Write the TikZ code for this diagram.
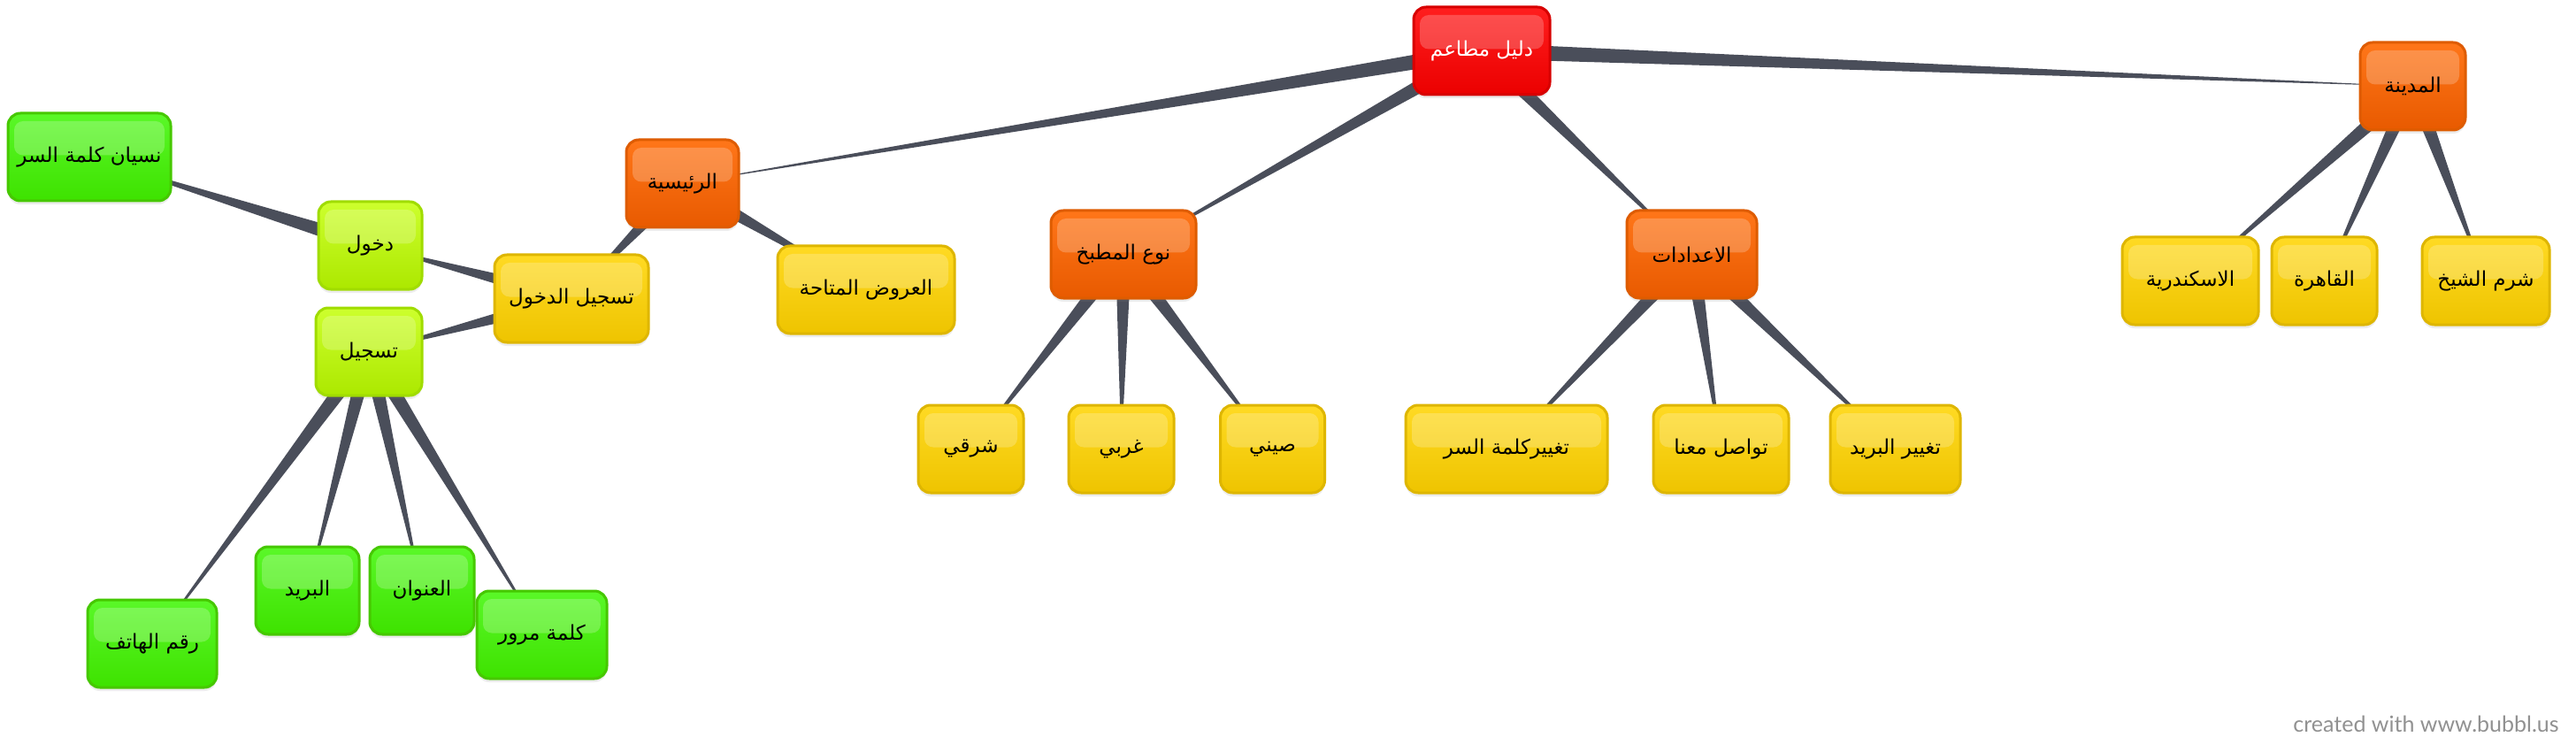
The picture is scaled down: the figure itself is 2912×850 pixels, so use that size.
\documentclass[tikz,border=0pt]{standalone}
\usepackage{fontspec}
\usetikzlibrary{calc,shadows}
\TeXXeTstate=1
\newfontfamily\arabicfont[Script=Arabic]{DejaVu Sans}
\newfontfamily\credfont{Lato}
\definecolor{conncol}{RGB}{74,78,90}
\definecolor{redB}{RGB}{215,0,0}
\definecolor{redT}{RGB}{255,30,30}
\definecolor{redD}{RGB}{235,0,0}
\definecolor{orB}{RGB}{222,92,0}
\definecolor{orT}{RGB}{255,118,25}
\definecolor{orD}{RGB}{232,90,0}
\definecolor{yeB}{RGB}{222,182,0}
\definecolor{yeT}{RGB}{255,218,35}
\definecolor{yeD}{RGB}{238,196,0}
\definecolor{liB}{RGB}{160,220,0}
\definecolor{liT}{RGB}{205,255,45}
\definecolor{liD}{RGB}{172,232,0}
\definecolor{grB}{RGB}{70,200,0}
\definecolor{grT}{RGB}{90,248,40}
\definecolor{grD}{RGB}{62,226,0}
\definecolor{credcol}{RGB}{145,145,145}
\pgfdeclarelayer{bg}
\pgfsetlayers{bg,main}
\newcommand\linkpc[2]{\fill[conncol] ($(#1.center)!4.5pt!90:(#2.center)$) -- ($(#1.center)!4.5pt!-90:(#2.center)$) -- (#2.center) -- cycle;}
\tikzset{
  box/.style={rounded corners=7pt, line width=1.5pt, minimum height=49.5pt, inner sep=2pt,
    font=\arabicfont\fontsize{11.5}{13}\selectfont, text=black,
    drop shadow={opacity=0.15, shadow xshift=0pt, shadow yshift=-2pt},
    path picture={\fill[white,opacity=0.22,rounded corners=5pt]
      ($(path picture bounding box.north west)+(3.5pt,-4.5pt)$) rectangle
      ($(path picture bounding box.east)+(-3.5pt,1pt)$);}},
  redbox/.style={box, draw=redB, top color=redT, bottom color=redD, text=white},
  orbox/.style={box, draw=orB, top color=orT, bottom color=orD},
  yebox/.style={box, draw=yeB, top color=yeT, bottom color=yeD},
  libox/.style={box, draw=liB, top color=liT, bottom color=liD},
  grbox/.style={box, draw=grB, top color=grT, bottom color=grD},
}
\begin{document}
\begin{tikzpicture}[x=0.5pt,y=-0.5pt]
\useasboundingbox (0,0) rectangle (2912,850);
% root
\node[redbox, minimum width=77pt] (root) at (1675,57.5) {\beginR دليل مطاعم\endR};
% level 1
\node[orbox, minimum width=63.5pt] (raisiya) at (771.5,207.5) {\beginR الرئيسية\endR};
\node[orbox, minimum width=82pt] (naw) at (1270,287.5) {\beginR نوع المطبخ\endR};
\node[orbox, minimum width=73.5pt] (iedadat) at (1912.5,287.5) {\beginR الاعدادات\endR};
\node[orbox, minimum width=59.5pt] (madina) at (2727.5,97.5) {\beginR المدينة\endR};
% madina children
\node[yebox, minimum width=77pt] (iskandariya) at (2476,317.5) {\beginR الاسكندرية\endR};
\node[yebox, minimum width=59.5pt] (qahira) at (2627.5,317.5) {\beginR القاهرة\endR};
\node[yebox, minimum width=72pt] (sharm) at (2810,317.5) {\beginR شرم الشيخ\endR};
% iedadat children
\node[yebox, minimum width=114pt] (tkalima) at (1703,507.5) {\beginR تغييركلمة السر\endR};
\node[yebox, minimum width=76.5pt] (tawasol) at (1945.5,507.5) {\beginR تواصل معنا\endR};
\node[yebox, minimum width=73.5pt] (tbarid) at (2142.5,507.5) {\beginR تغيير البريد\endR};
% naw children
\node[yebox, minimum width=59.5pt] (sharqi) at (1097.5,507.5) {\beginR شرقي\endR};
\node[yebox, minimum width=59.5pt] (gharbi) at (1267.5,507.5) {\beginR غربي\endR};
\node[yebox, minimum width=59pt] (sini) at (1438.5,507.5) {\beginR صيني\endR};
% raisiya children
\node[yebox, minimum width=100pt] (orood) at (979,327.5) {\beginR العروض المتاحة\endR};
\node[yebox, minimum width=87pt] (tdukhul) at (646,337.5) {\beginR تسجيل الدخول\endR};
% tdukhul children
\node[libox, minimum width=58.5pt] (dukhul) at (418.5,277.5) {\beginR دخول\endR};
\node[libox, minimum width=60pt] (tasjil) at (417,397.5) {\beginR تسجيل\endR};
% dukhul child
\node[grbox, minimum width=92pt] (nisyan) at (101,177.5) {\beginR نسيان كلمة السر\endR};
% tasjil children
\node[grbox, minimum width=73pt] (raqm) at (172,727.5) {\beginR رقم الهاتف\endR};
\node[grbox, minimum width=58.5pt] (barid) at (347.5,667.5) {\beginR البريد\endR};
\node[grbox, minimum width=59pt] (onwan) at (477,667.5) {\beginR العنوان\endR};
\node[grbox, minimum width=73.5pt] (murur) at (612.5,717.5) {\beginR كلمة مرور\endR};
% credit
\node[anchor=base east, inner sep=0pt, text=credcol, font=\credfont\fontsize{12.5}{15}\selectfont] (credit) at (2893,827) {created with www.bubbl.us};
% background and connectors
\begin{pgfonlayer}{bg}
\fill[white] (0,0) rectangle (2912,850);
\linkpc{root}{raisiya}
\linkpc{root}{naw}
\linkpc{root}{iedadat}
\linkpc{root}{madina}
\linkpc{madina}{iskandariya}
\linkpc{madina}{qahira}
\linkpc{madina}{sharm}
\linkpc{iedadat}{tkalima}
\linkpc{iedadat}{tawasol}
\linkpc{iedadat}{tbarid}
\linkpc{naw}{sharqi}
\linkpc{naw}{gharbi}
\linkpc{naw}{sini}
\linkpc{raisiya}{orood}
\linkpc{raisiya}{tdukhul}
\linkpc{tdukhul}{dukhul}
\linkpc{tdukhul}{tasjil}
\linkpc{dukhul}{nisyan}
\linkpc{tasjil}{raqm}
\linkpc{tasjil}{barid}
\linkpc{tasjil}{onwan}
\linkpc{tasjil}{murur}
\end{pgfonlayer}
\end{tikzpicture}
\end{document}
